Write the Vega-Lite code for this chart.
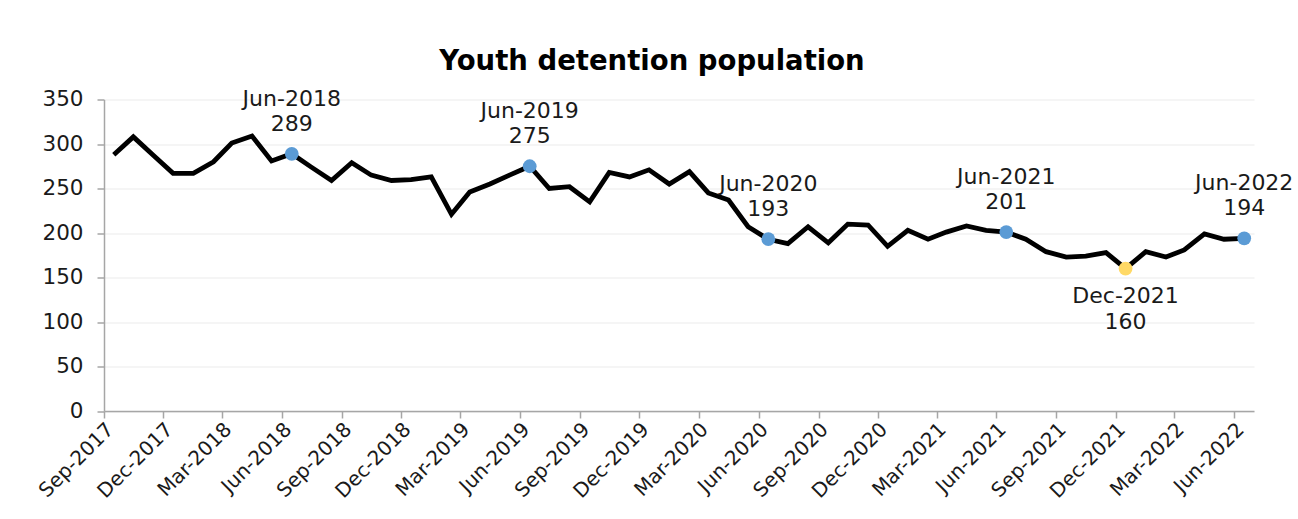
{
  "$schema": "https://vega.github.io/schema/vega-lite/v6.json",
  "autosize": {"type": "none"},
  "width": 1150,
  "height": 311.5,
  "padding": {"left": 104, "top": 99.5, "right": 44, "bottom": 108},
  "background": "white",
  "config": {
    "font": "DejaVu Sans",
    "view": {"stroke": null}
  },
  "title": {
    "text": "Youth detention population",
    "font": "DejaVu Sans",
    "fontSize": 27.5,
    "fontWeight": "bold",
    "color": "#000000",
    "anchor": "middle",
    "dx": -27,
    "offset": 12
  },
  "data": {
    "values": [
      {"date": "2017-09-16", "pop": 288},
      {"date": "2017-10-16", "pop": 308},
      {"date": "2017-11-16", "pop": 287},
      {"date": "2017-12-16", "pop": 267},
      {"date": "2018-01-16", "pop": 267},
      {"date": "2018-02-16", "pop": 280},
      {"date": "2018-03-16", "pop": 301},
      {"date": "2018-04-16", "pop": 309},
      {"date": "2018-05-16", "pop": 281},
      {"date": "2018-06-16", "pop": 289, "kind": "jun", "label": "Jun-2018"},
      {"date": "2018-07-16", "pop": 274},
      {"date": "2018-08-16", "pop": 259},
      {"date": "2018-09-16", "pop": 279},
      {"date": "2018-10-16", "pop": 265},
      {"date": "2018-11-16", "pop": 259},
      {"date": "2018-12-16", "pop": 260},
      {"date": "2019-01-16", "pop": 263},
      {"date": "2019-02-16", "pop": 221},
      {"date": "2019-03-16", "pop": 246},
      {"date": "2019-04-16", "pop": 255},
      {"date": "2019-05-16", "pop": 265},
      {"date": "2019-06-16", "pop": 275, "kind": "jun", "label": "Jun-2019"},
      {"date": "2019-07-16", "pop": 250},
      {"date": "2019-08-16", "pop": 252},
      {"date": "2019-09-16", "pop": 235},
      {"date": "2019-10-16", "pop": 268},
      {"date": "2019-11-16", "pop": 263},
      {"date": "2019-12-16", "pop": 271},
      {"date": "2020-01-16", "pop": 255},
      {"date": "2020-02-16", "pop": 269},
      {"date": "2020-03-16", "pop": 245},
      {"date": "2020-04-16", "pop": 237},
      {"date": "2020-05-16", "pop": 207},
      {"date": "2020-06-16", "pop": 193, "kind": "jun", "label": "Jun-2020"},
      {"date": "2020-07-16", "pop": 188},
      {"date": "2020-08-16", "pop": 207},
      {"date": "2020-09-16", "pop": 189},
      {"date": "2020-10-16", "pop": 210},
      {"date": "2020-11-16", "pop": 209},
      {"date": "2020-12-16", "pop": 185},
      {"date": "2021-01-16", "pop": 203},
      {"date": "2021-02-16", "pop": 193},
      {"date": "2021-03-16", "pop": 201},
      {"date": "2021-04-16", "pop": 208},
      {"date": "2021-05-16", "pop": 203},
      {"date": "2021-06-16", "pop": 201, "kind": "jun", "label": "Jun-2021"},
      {"date": "2021-07-16", "pop": 193},
      {"date": "2021-08-16", "pop": 179},
      {"date": "2021-09-16", "pop": 173},
      {"date": "2021-10-16", "pop": 174},
      {"date": "2021-11-16", "pop": 178},
      {"date": "2021-12-16", "pop": 160, "kind": "dec", "label": "Dec-2021"},
      {"date": "2022-01-16", "pop": 179},
      {"date": "2022-02-16", "pop": 173},
      {"date": "2022-03-16", "pop": 181},
      {"date": "2022-04-16", "pop": 199},
      {"date": "2022-05-16", "pop": 193},
      {"date": "2022-06-16", "pop": 194, "kind": "jun", "label": "Jun-2022"}
    ]
  },
  "encoding": {
    "x": {
      "field": "date",
      "type": "temporal",
      "scale": {
        "type": "utc",
        "domain": [
          {"year": 2017, "month": 9, "date": 1, "utc": true},
          {"year": 2022, "month": 7, "date": 1, "utc": true}
        ]
      },
      "axis": {
        "title": null,
        "values": [
          {"year": 2017, "month": 9, "date": 1, "utc": true},
          {"year": 2017, "month": 12, "date": 1, "utc": true},
          {"year": 2018, "month": 3, "date": 1, "utc": true},
          {"year": 2018, "month": 6, "date": 1, "utc": true},
          {"year": 2018, "month": 9, "date": 1, "utc": true},
          {"year": 2018, "month": 12, "date": 1, "utc": true},
          {"year": 2019, "month": 3, "date": 1, "utc": true},
          {"year": 2019, "month": 6, "date": 1, "utc": true},
          {"year": 2019, "month": 9, "date": 1, "utc": true},
          {"year": 2019, "month": 12, "date": 1, "utc": true},
          {"year": 2020, "month": 3, "date": 1, "utc": true},
          {"year": 2020, "month": 6, "date": 1, "utc": true},
          {"year": 2020, "month": 9, "date": 1, "utc": true},
          {"year": 2020, "month": 12, "date": 1, "utc": true},
          {"year": 2021, "month": 3, "date": 1, "utc": true},
          {"year": 2021, "month": 6, "date": 1, "utc": true},
          {"year": 2021, "month": 9, "date": 1, "utc": true},
          {"year": 2021, "month": 12, "date": 1, "utc": true},
          {"year": 2022, "month": 3, "date": 1, "utc": true},
          {"year": 2022, "month": 6, "date": 1, "utc": true}
        ],
        "labelExpr": "utcFormat(datum.value, '%b-%Y')",
        "labelAngle": -45,
        "labelAlign": "right",
        "labelBaseline": "middle",
        "labelFontSize": 20,
        "labelColor": "#1a1a1a",
        "labelPadding": 8,
        "labelOffset": 6,
        "labelOverlap": false,
        "labelFlush": false,
        "domainColor": "#a6a6a6",
        "domainWidth": 1.5,
        "tickColor": "#a6a6a6",
        "tickWidth": 1.5,
        "tickSize": 7,
        "grid": false
      }
    },
    "y": {
      "field": "pop",
      "type": "quantitative",
      "scale": {"domain": [0, 350]},
      "axis": {
        "title": null,
        "values": [0, 50, 100, 150, 200, 250, 300, 350],
        "labelFontSize": 21.5,
        "labelColor": "#1a1a1a",
        "labelPadding": 14,
        "domainColor": "#a6a6a6",
        "domainWidth": 1.5,
        "tickColor": "#a6a6a6",
        "tickWidth": 1.5,
        "tickSize": 7,
        "grid": true,
        "gridColor": "#ececec",
        "gridWidth": 1.2
      }
    }
  },
  "layer": [
    {
      "mark": {"type": "line", "color": "#000000", "strokeWidth": 4.8, "strokeJoin": "miter", "clip": true}
    },
    {
      "transform": [{"filter": "datum.kind != null"}],
      "mark": {"type": "point", "filled": true, "size": 190, "opacity": 1},
      "encoding": {
        "color": {
          "field": "kind",
          "type": "nominal",
          "scale": {"domain": ["jun", "dec"], "range": ["#5b9bd5", "#ffd966"]},
          "legend": null
        }
      }
    },
    {
      "transform": [{"filter": "datum.kind == 'jun'"}],
      "mark": {"type": "text", "fontSize": 22, "color": "#1a1a1a", "baseline": "middle", "dy": -55},
      "encoding": {"text": {"field": "label"}}
    },
    {
      "transform": [{"filter": "datum.kind == 'jun'"}],
      "mark": {"type": "text", "fontSize": 22, "color": "#1a1a1a", "baseline": "middle", "dy": -30},
      "encoding": {"text": {"field": "pop", "type": "quantitative"}}
    },
    {
      "transform": [{"filter": "datum.kind == 'dec'"}],
      "mark": {"type": "text", "fontSize": 22, "color": "#1a1a1a", "baseline": "middle", "dy": 27},
      "encoding": {"text": {"field": "label"}}
    },
    {
      "transform": [{"filter": "datum.kind == 'dec'"}],
      "mark": {"type": "text", "fontSize": 22, "color": "#1a1a1a", "baseline": "middle", "dy": 53},
      "encoding": {"text": {"field": "pop", "type": "quantitative"}}
    }
  ]
}
